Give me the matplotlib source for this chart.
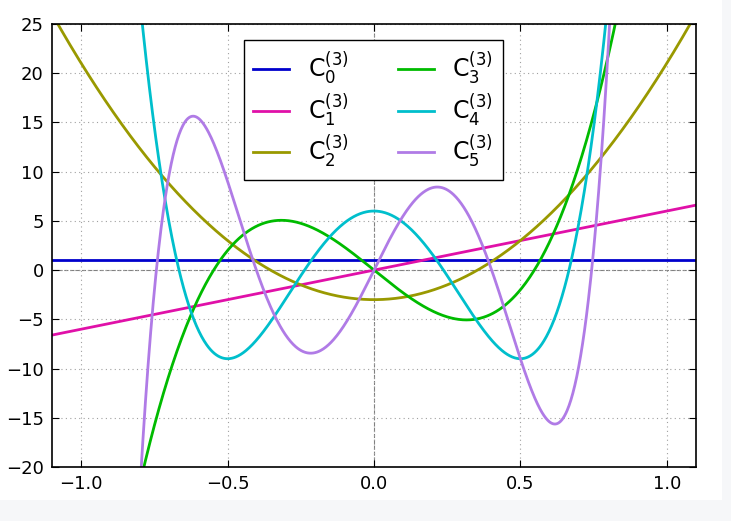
import numpy as np
import matplotlib.pyplot as plt
from matplotlib.patches import Rectangle

# Gegenbauer C_n^(3) coefficients, highest power first
labels = [r'$\mathrm{C}_{0}^{(3)}$', r'$\mathrm{C}_{1}^{(3)}$', r'$\mathrm{C}_{2}^{(3)}$',
          r'$\mathrm{C}_{3}^{(3)}$', r'$\mathrm{C}_{4}^{(3)}$', r'$\mathrm{C}_{5}^{(3)}$']
coeffs = [
    [1],
    [6, 0],
    [24, 0, -3],
    [80, 0, -24, 0],
    [240, 0, -120, 0, 6],
    [672, 0, -480, 0, 60, 0],
]
colors = ['#0000cc', '#e010a8', '#999900', '#00bb00', '#00bfcc', '#b07be6']

x = np.linspace(-1.1, 1.1, 1000)

fig = plt.figure(figsize=(7.31, 5.21), dpi=100, facecolor='#f6f7f9')
fig.patches.append(Rectangle((0, 21/521), 722/731, 1, transform=fig.transFigure,
                             facecolor='white', edgecolor='none', zorder=-10))
ax = fig.add_axes([52/731, 54/521, 644/731, 443/521])

for c, lab, col in zip(coeffs, labels, colors):
    ax.plot(x, np.polyval(c, x), color=col, lw=2, label=lab)

ax.axhline(0, color='gray', ls='--', lw=0.8, zorder=0)
ax.axvline(0, color='gray', ls='--', lw=0.8, zorder=0)
ax.grid(True, ls=(0, (1, 3)), color='#a0a0a0', lw=0.8)

ax.set_xlim(-1.1, 1.1)
ax.set_ylim(-20, 25)
ax.set_xticks([-1.0, -0.5, 0.0, 0.5, 1.0])
ax.set_yticks(range(-20, 26, 5))
ax.tick_params(direction='in', top=True, right=True, labelsize=13, length=5, pad=6)
for s in ax.spines.values():
    s.set_linewidth(1.2)

leg = ax.legend(ncol=2, loc='upper center', bbox_to_anchor=(0.499, 0.964),
                borderaxespad=0, fontsize=17, fancybox=False, edgecolor='black',
                framealpha=1, handlelength=1.5, columnspacing=2.1,
                labelspacing=0.2, borderpad=0.42)
leg.get_frame().set_linewidth(1.0)

plt.savefig('out.png', facecolor=fig.get_facecolor())
